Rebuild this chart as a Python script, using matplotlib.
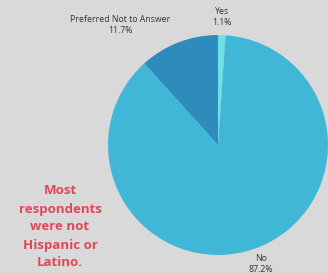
import matplotlib
matplotlib.use("Agg")
import matplotlib.pyplot as plt

categories = ["Yes", "No", "Preferred Not to Answer"]
values = [1.1, 87.2, 11.7]
colors = ["#6fe0e8", "#41b7d8", "#2e8cbd"]

W, H = 328, 273
fig = plt.figure(figsize=(W/100, H/100), dpi=100)
fig.patch.set_facecolor("#d9d9d9")

cx, cy, r = 218, 145, 110
ax = fig.add_axes([(cx - r)/W, (H - cy - r)/H, 2*r/W, 2*r/H])
ax.pie(values, colors=colors, startangle=90, counterclock=False,
       wedgeprops=dict(linewidth=0))
ax.set_xlim(-1, 1); ax.set_ylim(-1, 1)
ax.set_aspect("auto")
ax.axis("off")

lab_font = dict(fontsize=6.3, color="#333333", ha="center", va="center",
                family="Open Sans", linespacing=1.3)
fig.text(222/W, 1 - 17/H, f"{categories[0]}\n{values[0]}%", **lab_font)
fig.text(120/W, 1 - 25/H, f"{categories[2]}\n{values[2]}%", **lab_font)
fig.text(261/W, 1 - 264/H, f"{categories[1]}\n{values[1]}%", **lab_font)

fig.text(60/W, 1 - 227/H, "Most\nrespondents\nwere not\nHispanic or\nLatino.",
         fontsize=9.5, color="#e0485a", fontweight="bold", ha="center", va="center",
         linespacing=1.5, family="Open Sans")

fig.savefig("out.png", dpi=100, facecolor=fig.get_facecolor())
